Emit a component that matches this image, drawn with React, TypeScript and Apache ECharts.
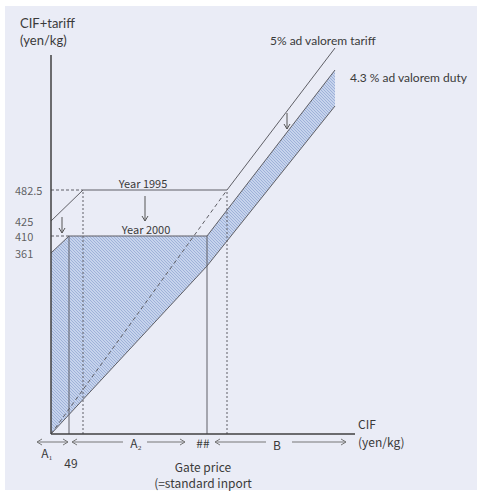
import React, { useEffect, useRef } from 'react';
import * as echarts from 'echarts';

// Diagram units (schematic, not to scale): x = CIF, y = CIF + tariff
const tickLabels = ['482.5', '425', '410', '361'];
const tickValues = [244, 213, 198, 181];

const line1995 = [[0, 213], [32, 244], [176, 244], [284, 386]];
const line2000 = [[0, 181], [18, 198], [156, 198], [284, 364]];
const lowerLine = [[0, 0], [156, 168], [284, 328]];
const dashedDiag = [[0, 0], [176, 244]];
const shadedArea = [[0, 0], [0, 181], [18, 198], [156, 198], [284, 364], [284, 328], [156, 168]];
const solidVerticalX = [18, 156];
const solidVerticalTop = 198;
const dottedVerticalX = [32, 176];
const dottedVerticalTop = 244;
const dashedGuides = [[[0, 244], [32, 244]], [[0, 198], [18, 198]]];
const downArrows = [[11, 217, 201], [94, 238, 213], [236, 321, 305]];
const yAxisTop = 379;
const xAxisEnd = 304;

export default function App() {
  const ref = useRef<HTMLDivElement>(null);
  useEffect(() => {
    const chart = echarts.init(ref.current!, null, { renderer: 'svg' });

    const cv = document.createElement('canvas');
    cv.width = 3;
    cv.height = 3;
    const g = cv.getContext('2d')!;
    g.fillStyle = '#c6d3ec';
    g.fillRect(0, 0, 3, 3);
    g.fillStyle = '#9eb1d9';
    for (let i = 0; i < 3; i++) g.fillRect(i, i, 1, 1);
    const pattern: any = { image: cv, repeat: 'repeat' };

    const lineColor = '#5f5f66';
    const textColor = '#3a3a3a';
    const mkLine = (data: number[][], type: any = 'solid', color = lineColor, width = 1, z = 3) => ({
      type: 'line',
      data,
      showSymbol: false,
      symbol: 'none',
      silent: true,
      z,
      lineStyle: { color, width, type },
      clip: false,
    });

    const series: any[] = [
      {
        type: 'custom',
        silent: true,
        z: 1,
        data: [[0, 0]],
        renderItem: (_p: any, api: any) => ({
          type: 'polygon',
          shape: { points: shadedArea.map((p) => api.coord(p)) },
          style: { fill: pattern, stroke: 'none' },
        }),
      },
      mkLine(line1995),
      mkLine(line2000),
      mkLine(lowerLine),
      mkLine(dashedDiag, [4, 3]),
      ...solidVerticalX.map((x) => mkLine([[x, 0], [x, solidVerticalTop]])),
      ...dottedVerticalX.map((x) => mkLine([[x, 0], [x, dottedVerticalTop]], [2, 2])),
      ...dashedGuides.map((d) => mkLine(d, [3, 2])),
      ...downArrows.map(([x, y1, y2]) => mkLine([[x, y1], [x, y2]], 'solid', '#555', 1)),
      ...downArrows.map(([x, , y2]) => mkLine([[x - 3, y2 + 5], [x, y2], [x + 3, y2 + 5]], 'solid', '#555', 1)),
      mkLine([[0, 0], [0, yAxisTop]], 'solid', '#404040', 1.5, 5),
      mkLine([[0, 0], [xAxisEnd, 0]], 'solid', '#404040', 1.5, 5),
      {
        type: 'scatter',
        symbolSize: 0,
        silent: true,
        data: tickValues.map((v, i) => [0, v, tickLabels[i]]),
        label: {
          show: true,
          formatter: (p: any) => p.data[2],
          position: [-36, 0],
          align: 'left',
          verticalAlign: 'middle',
          color: textColor,
          fontSize: 11,
          lineHeight: 11,
          fontFamily: 'Noto Sans CJK JP',
        },
      },
    ];

    const txt = (text: string, x: number, y: number, font: string, align = 'left') => ({
      type: 'text',
      x,
      y,
      z: 10,
      silent: true,
      style: {
        text,
        fill: textColor,
        font,
        align,
        verticalAlign: 'middle',
        textAlign: align,
        textVerticalAlign: 'middle',
      },
    });
    const seg = (x1: number, x2: number, y: number) => ({
      type: 'line',
      z: 10,
      silent: true,
      shape: { x1, y1: y, x2, y2: y },
      style: { stroke: '#777', lineWidth: 1 },
    });
    const head = (x: number, y: number, dir: number) => ({
      type: 'polyline',
      z: 10,
      silent: true,
      shape: { points: [[x - dir * 5, y - 3], [x, y], [x - dir * 5, y + 3]] },
      style: { stroke: '#777', lineWidth: 1, fill: 'none' },
    });

    const upperFont = '12px Lato';
    const gothic = '12px "Noto Sans CJK JP"';
    const ay = 442;

    chart.setOption({
      animation: false,
      backgroundColor: '#ffffff',
      grid: { left: 51, right: 122, top: 34, bottom: 59 },
      xAxis: { type: 'value', min: 0, max: 304, show: false },
      yAxis: { type: 'value', min: 0, max: 400, show: false },
      series,
      graphic: [
        { type: 'rect', z: -10, silent: true, shape: { x: 5, y: 6, width: 472, height: 484 }, style: { fill: '#eaecf6' } },
        txt('CIF+tariff', 20, 23, '13px Lato'),
        txt('(yen/kg)', 20, 40, '13px Lato'),
        txt('5% ad valorem tariff', 270, 40, upperFont),
        txt('4.3 % ad valorem duty', 350, 77, upperFont),
        txt('Year 1995', 143, 183, '11px "Noto Sans CJK JP"', 'center'),
        txt('Year 2000', 146, 229, '11px "Noto Sans CJK JP"', 'center'),
        txt('CIF', 358, 423, gothic),
        txt('(yen/kg)', 358, 441, gothic),
        txt('A₁', 47, 452, gothic, 'center'),
        txt('49', 71, 462, gothic, 'center'),
        txt('A₂', 136, 442, gothic, 'center'),
        txt('##', 203, 442, gothic, 'center'),
        txt('B', 277, 444, gothic, 'center'),
        txt('Gate price', 203, 466, gothic, 'center'),
        txt('(=standard inport', 203, 482, gothic, 'center'),
        seg(37, 68, ay), head(37, ay, -1), head(68, ay, 1),
        seg(72, 123, ay), head(72, ay, -1),
        seg(147, 185, ay), head(185, ay, 1),
        seg(215, 266, ay), head(215, ay, -1),
        seg(292, 346, ay), head(346, ay, 1),
      ],
    });
    return () => chart.dispose();
  }, []);
  return <div ref={ref} style={{ position: 'fixed', left: 0, top: 0, width: 477, height: 493 }} />;
}
